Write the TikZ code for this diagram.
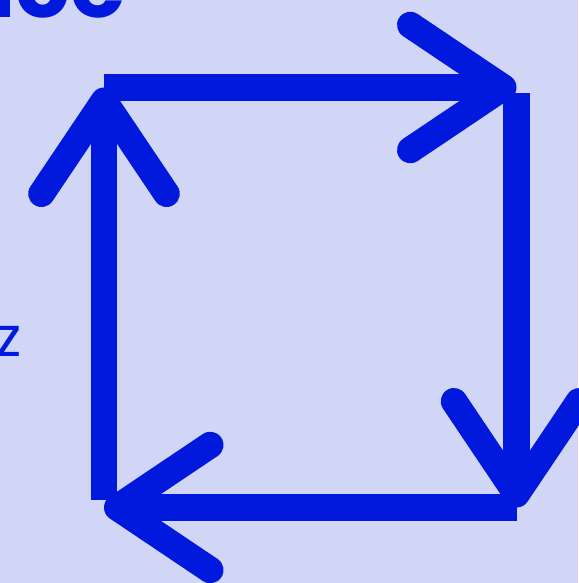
\documentclass[tikz,border=0pt]{standalone}
\usepackage{fontspec}
\setmainfont{Poppins}
\usepackage{xcolor}
\usepackage{tikz}
\usetikzlibrary{arrows.meta}

\definecolor{cyclebg}{RGB}{209,214,247}
\definecolor{cycleblue}{RGB}{0,25,221}

\begin{document}
\begin{tikzpicture}[
  x=1pt, y=-1pt,
  arr/.style={draw=cycleblue, line width=26.5pt, line cap=butt,
    -{Straight Barb[length=93pt, width=125pt, round]}},
  title/.style={text=cycleblue, font=\fontsize{90}{90}\selectfont\bfseries, inner sep=0pt},
  side/.style={text=cycleblue, font=\fontsize{55}{55}\selectfont, inner sep=0pt}
]
\fill[cyclebg] (0,0) rectangle (578,583);
\useasboundingbox (0,0) rectangle (578,583);

% corners of the cycle
\coordinate (tl) at (104,87.5);
\coordinate (tr) at (516.5,87.5);
\coordinate (br) at (516.5,507.5);
\coordinate (bl) at (104,507.5);
% where the shafts start
\coordinate (rstart) at (516.5,93);
\coordinate (bstart) at (517,507.5);
\coordinate (lstart) at (104,500);

\node[title, anchor=base east] (head) at (126,18) {ice};
\node[side, anchor=base east] (zlabel) at (22,356) {z};

\draw[arr] (tl) -- (tr);
\draw[arr] (rstart) -- (br);
\draw[arr] (bstart) -- (bl);
\draw[arr] (lstart) -- (tl);
\end{tikzpicture}
\end{document}
